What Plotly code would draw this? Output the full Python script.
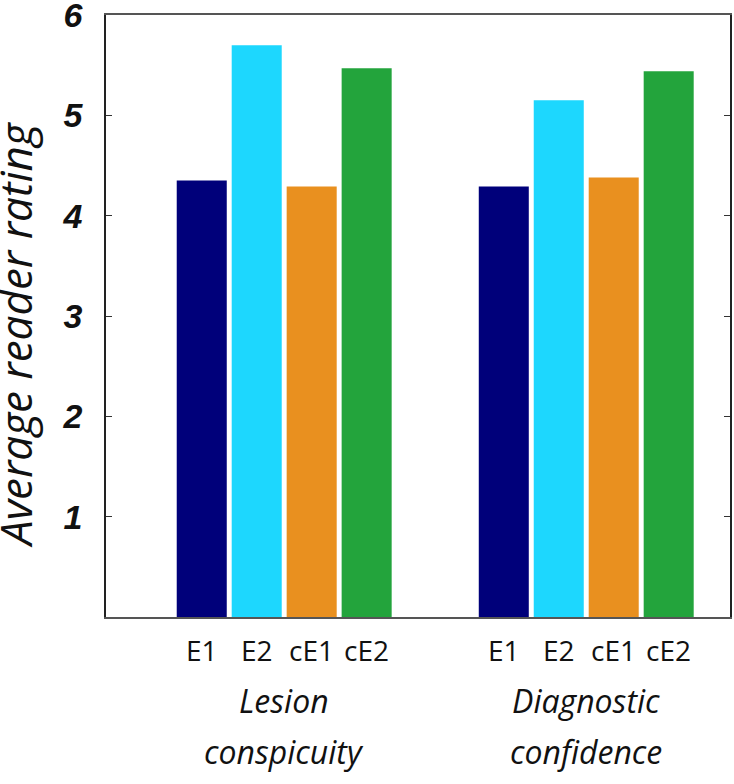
import plotly.graph_objects as go

group_line1 = ["Lesion", "Diagnostic"]
group_line2 = ["conspicuity", "confidence"]
series = ["E1", "E2", "cE1", "cE2"]
e1 = [4.35, 4.29]
e2 = [5.70, 5.15]
ce1 = [4.29, 4.38]
ce2 = [5.47, 5.44]
colors = ["#00007a", "#1dd7fe", "#e9901f", "#23a43c"]
yticks = [1, 2, 3, 4, 5, 6]

values = [e1, e2, ce1, ce2]
gx = [1, 2]

fig = go.Figure()
for name, vals, col in zip(series, values, colors):
    fig.add_trace(go.Bar(x=gx, y=vals, name=name, marker=dict(color=col, line=dict(width=0))))

bargap = 0.272
slot = (1 - bargap) / len(series)

annotations = []
for g in gx:
    for i, name in enumerate(series):
        annotations.append(dict(x=g + (i - 1.5) * slot, y=-0.055, xref="x", yref="paper",
                                xanchor="center", yanchor="middle",
                                text=name, showarrow=False,
                                font=dict(family="Open Sans", size=28, color="#111")))
for g, l1, l2 in zip(gx, group_line1, group_line2):
    annotations.append(dict(x=g, y=-0.138, xref="x", yref="paper", text=l1, showarrow=False,
                            xanchor="center", yanchor="middle",
                            font=dict(family="Open Sans", size=32, color="#111", style="italic")))
    annotations.append(dict(x=g, y=-0.224, xref="x", yref="paper", text=l2, showarrow=False,
                            xanchor="center", yanchor="middle",
                            font=dict(family="Open Sans", size=32, color="#111", style="italic")))
annotations.append(dict(x=-0.146, y=0.47, xref="paper", yref="paper", text="Average reader rating",
                        textangle=-90, showarrow=False, xanchor="center", yanchor="middle",
                        font=dict(family="Open Sans", size=44, color="#111", style="italic")))

fig.update_layout(
    width=734, height=784,
    margin=dict(l=106, r=4, t=15, b=167, autoexpand=False),
    paper_bgcolor="white", plot_bgcolor="white",
    barmode="group", bargap=bargap, bargroupgap=0.09,
    showlegend=False,
    annotations=annotations,
    xaxis=dict(range=[0.41, 2.476], showticklabels=False, ticks="", showgrid=False, zeroline=False,
               showline=True, linecolor="#555", linewidth=1.5, mirror=True),
    yaxis=dict(range=[0, 6.0005], tickvals=yticks, ticks="inside", ticklen=6, tickcolor="#333",
               showgrid=False, zeroline=False, showline=True, linecolor="#222", linewidth=1.5,
               mirror="ticks", ticklabelstandoff=15, ticklabeloverflow="allow",
               tickfont=dict(family="Liberation Sans", size=34, weight="bold", style="italic", color="#111")),
)

fig.write_html("out.html", config={"displayModeBar": False},
               post_script="document.body.style.margin='0px';document.body.style.overflow='hidden';")
